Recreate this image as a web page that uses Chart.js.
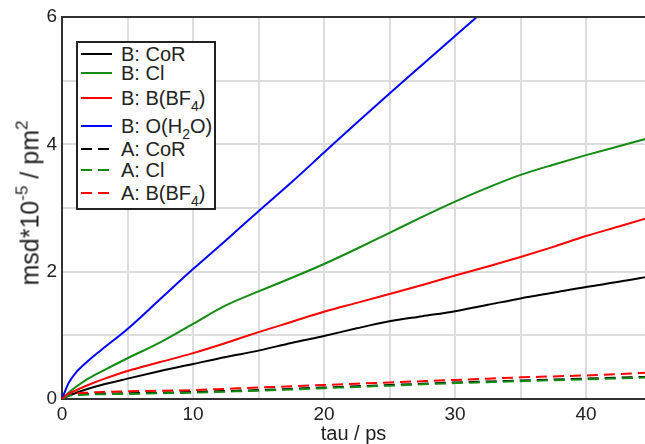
<!DOCTYPE html>
<html>
<head>
<meta charset="utf-8">
<script src="https://cdn.jsdelivr.net/npm/chart.js@4.4.1/dist/chart.umd.min.js"></script>
<style>
    body { margin: 0; background: #fff; font-family: "Liberation Sans", Arial, Helvetica, sans-serif; color: #222; }
    #wrap { position: relative; width: 645px; height: 444px; overflow: hidden; }
    #chart { position: absolute; left: 0; top: 0; }
    #ytitle {
        position: absolute; left: 30px; top: 203px; white-space: nowrap;
        font-size: 25px; transform: translate(-50%, -50%) rotate(-90deg);
    }
    #ytitle sup { font-size: 17px; vertical-align: baseline; position: relative; top: -11px; }
    #legend {
        position: absolute; left: 76px; top: 41px; width: 136px; height: 165px;
        border: 2px solid #222; background: #fff;
    }
    .row { position: absolute; left: 0; height: 24px; line-height: 24px; font-size: 20px; white-space: nowrap; }
    .row svg { position: absolute; left: 3px; top: 0; }
    .row span { position: absolute; left: 43px; top: 0; }
    .row sub { font-size: 14px; vertical-align: baseline; position: relative; top: 6px; }
</style>
</head>
<body>
<div id="wrap">
    <canvas id="chart" width="645" height="444"></canvas>
    <div id="ytitle">msd*10<sup>-5</sup> / pm<sup>2</sup></div>
    <div id="legend"></div>
</div>
<script>
(function() {
    'use strict';

    // tau / ps
    var tau = [0, 0.5, 1, 2, 3, 5, 7.5, 10, 12.5, 15, 17.5, 20, 22.5, 25, 27.5, 30, 32.5, 35, 37.5, 40, 42.5, 45];

    // msd * 1e-5 / pm^2
    var bCoR = [0, 0.05, 0.09, 0.16, 0.22, 0.32, 0.44, 0.55, 0.66, 0.76, 0.88, 0.99, 1.11, 1.22, 1.30, 1.38, 1.48, 1.58, 1.67, 1.76, 1.84, 1.93];
    var bCl  = [0, 0.10, 0.18, 0.32, 0.43, 0.64, 0.89, 1.18, 1.47, 1.69, 1.90, 2.12, 2.36, 2.61, 2.86, 3.10, 3.32, 3.52, 3.68, 3.83, 3.97, 4.11];
    var bBF4 = [0, 0.08, 0.13, 0.22, 0.30, 0.44, 0.58, 0.72, 0.88, 1.05, 1.21, 1.37, 1.51, 1.65, 1.79, 1.94, 2.08, 2.23, 2.39, 2.56, 2.71, 2.86];
    var bH2O = [0, 0.25, 0.40, 0.60, 0.77, 1.10, 1.57, 2.04, 2.49, 2.95, 3.40, 3.87, 4.34, 4.80, 5.25, 5.70, 6.15, null, null, null, null, null];
    var aCoR = [0, 0.06, 0.07, 0.08, 0.085, 0.09, 0.10, 0.11, 0.125, 0.14, 0.16, 0.18, 0.20, 0.22, 0.24, 0.26, 0.275, 0.29, 0.305, 0.32, 0.335, 0.35];
    var aCl  = [0, 0.05, 0.06, 0.07, 0.075, 0.08, 0.09, 0.10, 0.115, 0.13, 0.15, 0.17, 0.19, 0.21, 0.23, 0.25, 0.265, 0.28, 0.295, 0.31, 0.325, 0.34];
    var aBF4 = [0, 0.08, 0.09, 0.10, 0.11, 0.12, 0.13, 0.14, 0.16, 0.18, 0.20, 0.22, 0.24, 0.26, 0.28, 0.30, 0.32, 0.34, 0.355, 0.37, 0.39, 0.42];

    var seriesLabels = ['B: CoR', 'B: Cl', 'B: B(BF<sub>4</sub>)', 'B: O(H<sub>2</sub>O)', 'A: CoR', 'A: Cl', 'A: B(BF<sub>4</sub>)'];
    var xTickLabels = [0, 10, 20, 30, 40];
    var yTickLabels = [0, 2, 4, 6];

    var series = [bCoR, bCl, bBF4, bH2O, aCoR, aCl, aBF4];
    var colors = ['#000000', '#148c14', '#ff0000', '#0000ff', '#000000', '#148c14', '#ff0000'];
    var dashed = [false, false, false, false, true, true, true];
    var dashPattern = [11, 6];
    var legendRowY = [11, 30, 55, 83, 106, 127, 150];

    var font = '"Liberation Sans", Arial, Helvetica, sans-serif';

    var datasets = series.map(function(values, i) {
        return {
            label: seriesLabels[i].replace(/<[^>]+>/g, ''),
            data: tau.map(function(t, j) { return { x: t, y: values[j] }; }),
            borderColor: colors[i],
            borderWidth: 2,
            borderDash: dashed[i] ? dashPattern : [],
            pointRadius: 0,
            fill: false,
            cubicInterpolationMode: 'monotone',
            spanGaps: false,
            order: series.length - i
        };
    });

    var topBorder = {
        id: 'topBorder',
        afterDraw: function(chart) {
            var ctx = chart.ctx, a = chart.chartArea;
            ctx.save();
            ctx.strokeStyle = '#333';
            ctx.lineWidth = 2;
            ctx.beginPath();
            ctx.moveTo(a.left, a.top);
            ctx.lineTo(a.right, a.top);
            ctx.stroke();
            ctx.restore();
        }
    };

    function keepSteps(step) {
        return function(scale) {
            scale.ticks = scale.ticks.filter(function(t) {
                return Math.abs(t.value / step - Math.round(t.value / step)) < 1e-6;
            });
        };
    }

    new Chart(document.getElementById('chart').getContext('2d'), {
        type: 'line',
        data: { datasets: datasets },
        plugins: [topBorder],
        options: {
            responsive: false,
            animation: false,
            layout: { padding: { top: 17, right: 0, bottom: 0, left: 0 } },
            plugins: { legend: { display: false }, tooltip: { enabled: false } },
            scales: {
                x: {
                    type: 'linear',
                    min: 0,
                    max: 44.5,
                    afterBuildTicks: keepSteps(5),
                    afterFit: function(scale) { scale.height = 45; },
                    grid: { color: '#dddddd', lineWidth: 2, drawTicks: false },
                    border: { color: '#333', width: 2 },
                    ticks: {
                        stepSize: 5,
                        includeBounds: false,
                        padding: 4,
                        maxRotation: 0,
                        autoSkip: false,
                        color: '#222',
                        font: { family: font, size: 19 },
                        callback: function(v) { return xTickLabels.indexOf(v) >= 0 ? String(v) : ''; }
                    },
                    title: {
                        display: true,
                        text: 'tau / ps',
                        color: '#222',
                        font: { family: font, size: 20, lineHeight: 1 },
                        padding: { top: 0, bottom: 0 }
                    }
                },
                y: {
                    type: 'linear',
                    min: 0,
                    max: 6,
                    afterBuildTicks: keepSteps(1),
                    afterFit: function(scale) { scale.width = 62; },
                    grid: { color: '#dddddd', lineWidth: 2, drawTicks: false },
                    border: { color: '#333', width: 2 },
                    ticks: {
                        stepSize: 1,
                        padding: 5,
                        autoSkip: false,
                        color: '#222',
                        font: { family: font, size: 19 },
                        callback: function(v) { return yTickLabels.indexOf(v) >= 0 ? String(v) : ''; }
                    }
                }
            }
        }
    });

    // legend with subscripts
    var legend = document.getElementById('legend');
    seriesLabels.forEach(function(text, i) {
        var row = document.createElement('div');
        row.className = 'row';
        row.style.top = (legendRowY[i] - 12) + 'px';
        var dash = dashed[i] ? ' stroke-dasharray="' + dashPattern.join(' ') + '"' : '';
        row.innerHTML = '<svg width="32" height="24"><line x1="0" y1="12" x2="31" y2="12" stroke="' +
            colors[i] + '" stroke-width="2"' + dash + '/></svg><span>' + text + '</span>';
        legend.appendChild(row);
    });
})();
</script>
</body>
</html>
